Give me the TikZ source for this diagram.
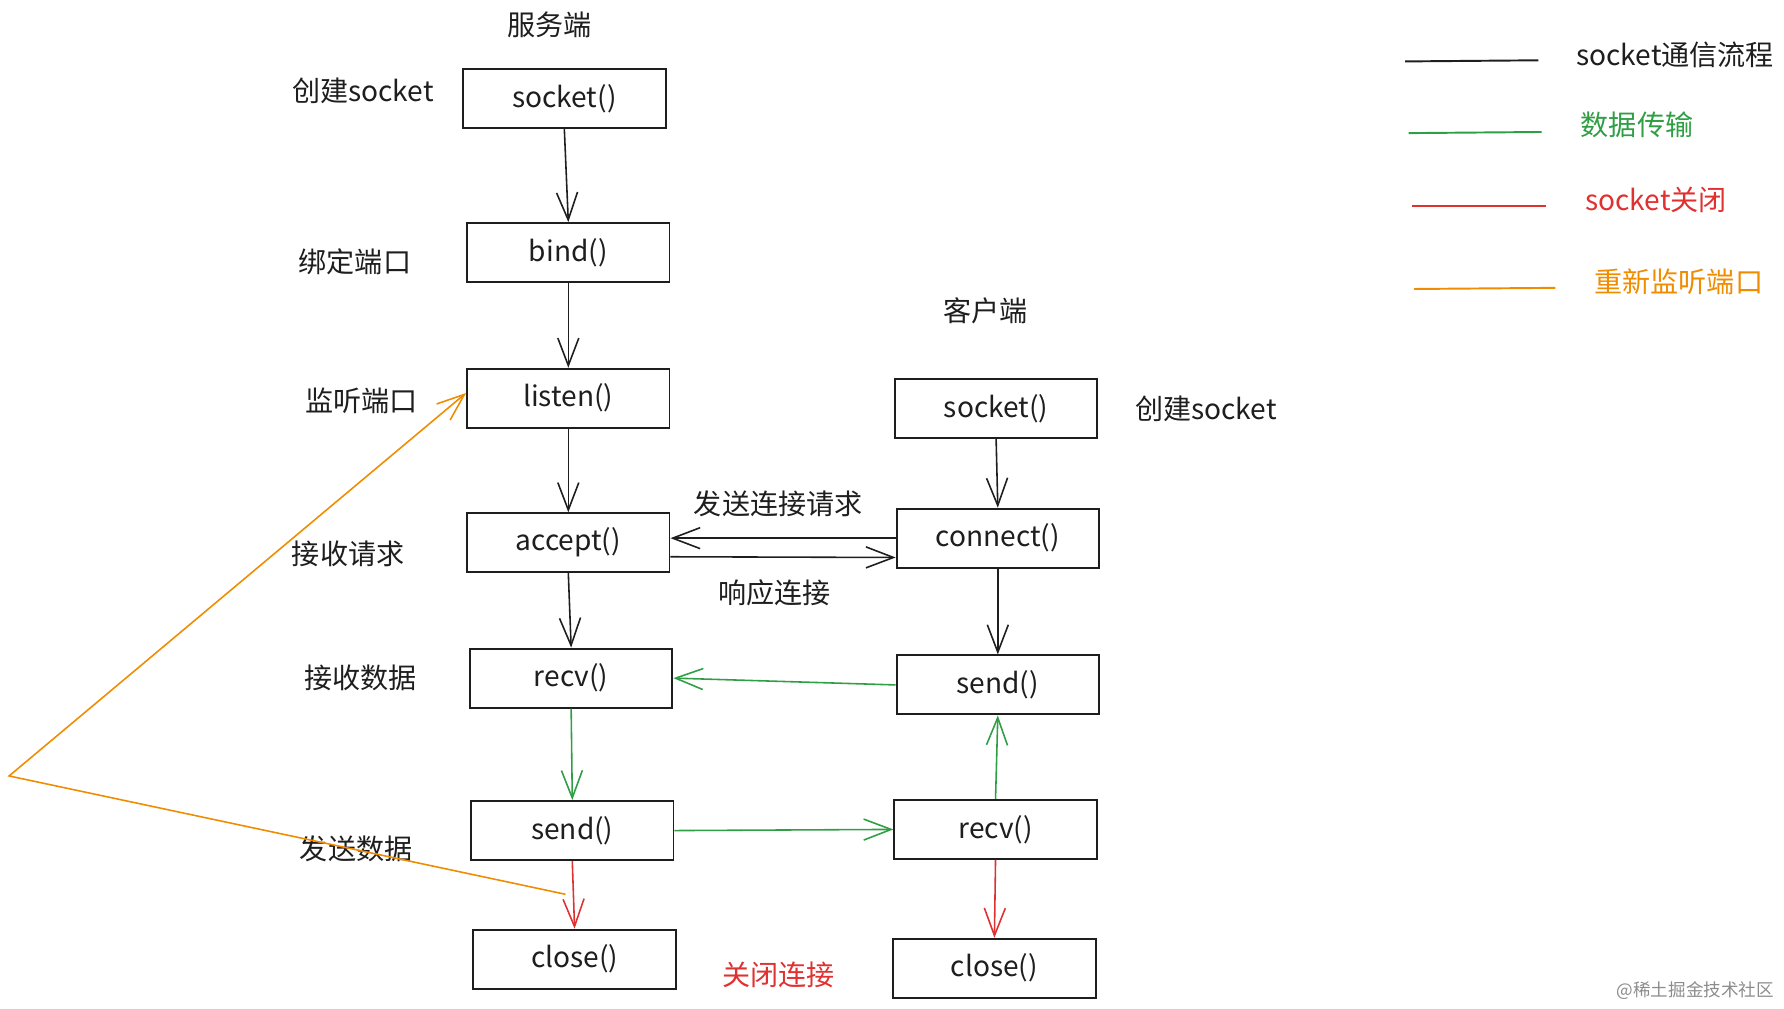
\documentclass[tikz,border=0pt]{standalone}
\usepackage{fontspec}
\setmainfont{Noto Sans CJK SC}
\usetikzlibrary{arrows.meta}

\definecolor{inkblack}{HTML}{1E1E1E}
\definecolor{datagreen}{HTML}{2F9E44}
\definecolor{closered}{HTML}{E03131}
\definecolor{relisten}{HTML}{F08C00}

\begin{document}
\begin{tikzpicture}[x=0.02276cm, y=-0.02276cm,
  font=\fontsize{16}{19}\selectfont,
  callbox/.style={draw=inkblack, line width=1.1pt, text=inkblack,
    minimum width=4.05cm, minimum height=1.18cm, inner sep=0pt},
  flow/.style={draw=inkblack, line width=0.9pt,
    -{Straight Barb[length=0.55cm, width=0.42cm, line width=0.9pt]}},
  dataflow/.style={flow, draw=datagreen},
  closeflow/.style={flow, draw=closered},
  legline/.style={line width=1.1pt}]

  % Page frame
  \useasboundingbox (0,0) rectangle (1568,886);

  % Server side
  \node[text=inkblack] (servertitle) at (483,22) {服务端};
  \node[callbox] (ssock)   at (496,86.5) {socket()};
  \node[callbox] (sbind)   at (499.5,222) {bind()};
  \node[callbox] (slisten) at (499.5,350) {listen()};
  \node[callbox] (saccept) at (499.5,477) {accept()};
  \node[callbox] (srecv)   at (502,596) {recv()};
  \node[callbox] (ssend)   at (503,730) {send()};
  \node[callbox] (sclose)  at (505,843) {close()};

  % Server step labels
  \node[text=inkblack] (lcreate) at (319,80)  {创建socket};
  \node[text=inkblack] (lbind)   at (312,230) {绑定端口};
  \node[text=inkblack] (llisten) at (318,352) {监听端口};
  \node[text=inkblack] (laccept) at (306,487) {接收请求};
  \node[text=inkblack] (lrecv)   at (317,596) {接收数据};
  \node[text=inkblack] (lsend)   at (313,746) {发送数据};

  % Client side
  \node[text=inkblack] (clienttitle) at (866,273) {客户端};
  \node[callbox] (csock)  at (875.5,359) {socket()};
  \node[callbox] (cconn)  at (877,473) {connect()};
  \node[callbox] (csend)  at (877,602) {send()};
  \node[callbox] (crecv)  at (875,729) {recv()};
  \node[callbox] (cclose) at (874,851) {close()};
  \node[text=inkblack] (ccreate) at (1060,359) {创建socket};

  % Middle labels
  \node[text=inkblack] (lrequest) at (684,443) {发送连接请求};
  \node[text=inkblack] (lreply)   at (681,521) {响应连接};
  \node[text=closered] (lclose)   at (684,857) {关闭连接};

  % socket flow (black)
  \draw[flow] (ssock.south) -- (sbind.north);
  \draw[flow] (sbind.south) -- (slisten.north);
  \draw[flow] (slisten.south) -- (saccept.north);
  \draw[flow] (saccept.south) -- (srecv.north);
  \draw[flow] (csock.south) -- (cconn.north);
  \draw[flow] (cconn.south) -- (csend.north);
  \draw[flow] (cconn.west) -- (cconn.west -| saccept.east);
  \draw[flow] ([yshift=-8pt]saccept.east) -- ([yshift=-11pt]cconn.west);

  % data transfer (green)
  \draw[dataflow] (csend.west) -- (srecv.east);
  \draw[dataflow] (srecv.south) -- (ssend.north);
  \draw[dataflow] (ssend.east) -- (crecv.west);
  \draw[dataflow] (crecv.north) -- (csend.south);

  % socket close (red)
  \draw[closeflow] (ssend.south) -- (sclose.north);
  \draw[closeflow] (crecv.south) -- (cclose.north);

  % back to listen (orange)
  \coordinate (rstart) at (497,786);
  \coordinate (rturn)  at (8,682);
  \draw[flow, draw=relisten] (rstart) -- (rturn) -- ([yshift=3pt]slisten.west);

  % Legend
  \coordinate (ka) at (1235,54);  \coordinate (kb) at (1352,53);
  \coordinate (kc) at (1238,117); \coordinate (kd) at (1355,116);
  \coordinate (ke) at (1241,181); \coordinate (kf) at (1359,181);
  \coordinate (kg) at (1243,254); \coordinate (kh) at (1367,253);
  \draw[legline, inkblack]  (ka) -- (kb);
  \draw[legline, datagreen] (kc) -- (kd);
  \draw[legline, closered]  (ke) -- (kf);
  \draw[legline, relisten]  (kg) -- (kh);
  \node[anchor=west, text=inkblack]  (kflow)  at (1380,48)  {socket通信流程};
  \node[anchor=west, text=datagreen] (kdata)  at (1384,110) {数据传输};
  \node[anchor=west, text=closered]  (kclose) at (1388,176) {socket关闭};
  \node[anchor=west, text=relisten]  (krelst) at (1396,248) {重新监听端口};

  % Watermark
  \node[text=black!45, font=\fontsize{10}{12}\selectfont] (mark) at (1490,871) {@稀土掘金技术社区};

\end{tikzpicture}
\end{document}
